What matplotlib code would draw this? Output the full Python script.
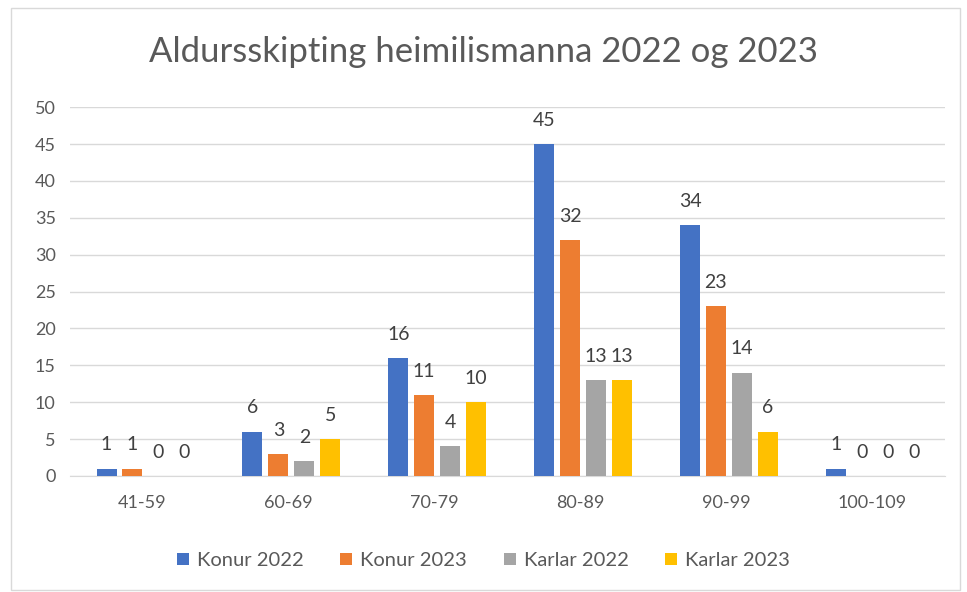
import numpy as np
import matplotlib

matplotlib.use("Agg")
import matplotlib.pyplot as plt
from matplotlib.patches import Rectangle

categories = ["41-59", "60-69", "70-79", "80-89", "90-99", "100-109"]
series_names = ["Konur 2022", "Konur 2023", "Karlar 2022", "Karlar 2023"]
konur_2022 = [1, 6, 16, 45, 34, 1]
konur_2023 = [1, 3, 11, 32, 23, 0]
karlar_2022 = [0, 2, 4, 13, 14, 0]
karlar_2023 = [0, 5, 10, 13, 6, 0]
colors = ["#4472C4", "#ED7D31", "#A5A5A5", "#FFC000"]

plt.rcParams["font.family"] = ["Lato", "DejaVu Sans"]
text_color = "#595959"

fig = plt.figure(figsize=(9.67, 5.92), dpi=100)
ax = fig.add_axes([0.072, 0.196, 0.905, 0.623])

x = np.arange(len(categories))
step = 0.178
width = 0.137
all_series = [konur_2022, konur_2023, karlar_2022, karlar_2023]
for i, (name, vals) in enumerate(zip(series_names, all_series)):
    pos = x + (i - 1.5) * step + 0.02
    bars = ax.bar(pos, vals, width, color=colors[i], label=name, zorder=3)
    ax.bar_label(bars, padding=11, fontsize=14, color="#404040")

ax.set_xlim(-0.5, len(categories) - 0.5)
ax.set_ylim(0, 50)
ax.set_yticks(range(0, 51, 5))
ax.set_xticks(x)
ax.set_xticklabels(categories)
ax.grid(axis="y", color="#D9D9D9", lw=1, zorder=0)
ax.tick_params(axis="both", length=0, labelsize=13, colors=text_color)
ax.tick_params(axis="x", pad=14)
ax.tick_params(axis="y", pad=10)
for s in ["top", "right", "left"]:
    ax.spines[s].set_visible(False)
ax.spines["bottom"].set_color("#D9D9D9")

fig.text(0.5, 0.913, "Aldursskipting heimilismanna 2022 og 2023",
         ha="center", va="center", fontsize=25, color=text_color)
fig.legend(loc="center", bbox_to_anchor=(0.5, 0.053), ncol=4, frameon=False,
           fontsize=14.5, handlelength=0.6, handleheight=0.6, columnspacing=1.8,
           handletextpad=0.4, labelcolor=text_color)

fig.patches.append(Rectangle((0.011, 0.003), 0.982, 0.984, transform=fig.transFigure,
                             fill=False, edgecolor="#D9D9D9", lw=1))

fig.savefig("out.png", dpi=100)
